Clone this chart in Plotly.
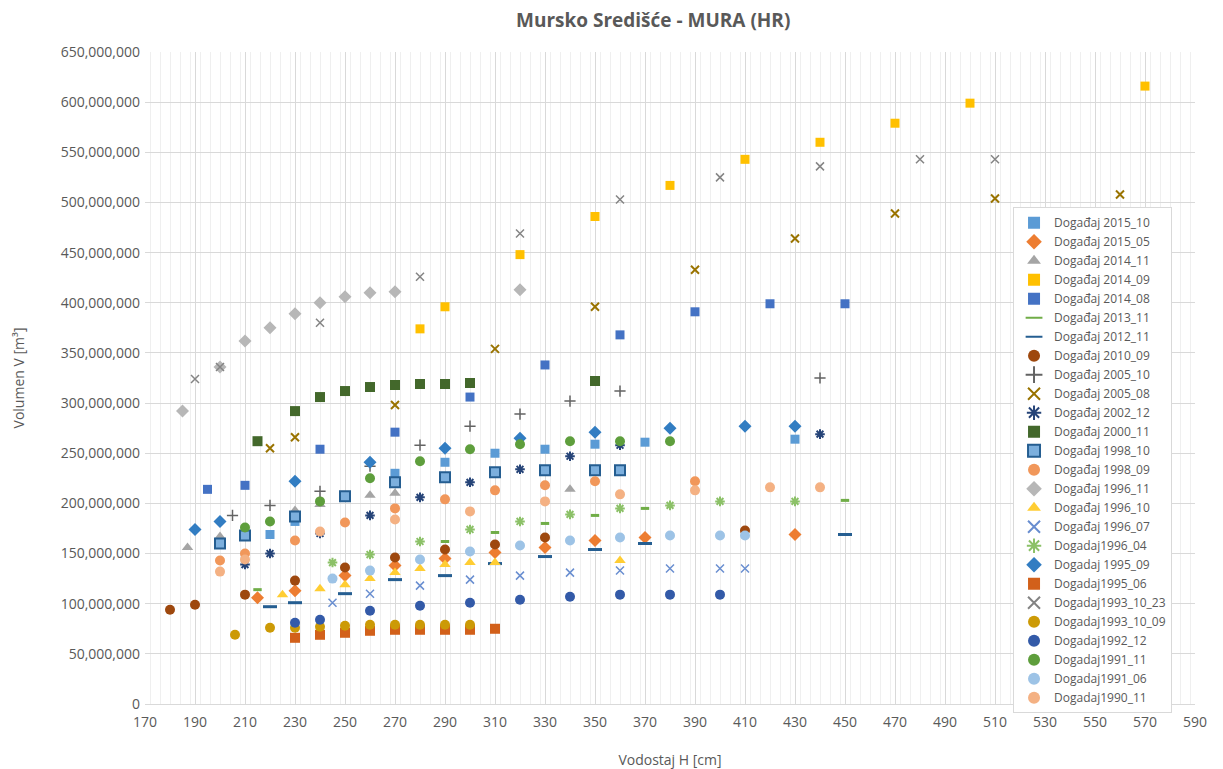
import plotly.graph_objects as go

# water level H [cm] and volume V [million m3] for each event
h_2015_10 = [220, 230, 270, 290, 310, 330, 350, 370, 430]
v_2015_10 = [169, 182, 230, 241, 250, 254, 259, 261, 264]
h_2015_05 = [215, 230, 250, 270, 290, 310, 330, 350, 370, 430]
v_2015_05 = [106, 113, 128, 138, 145, 151, 156, 163, 166, 169]
h_2014_11 = [187, 200, 230, 240, 260, 270, 340]
v_2014_11 = [156, 167, 193, 199, 208, 210, 214]
h_2014_09 = [280, 290, 320, 350, 380, 410, 440, 470, 500, 570]
v_2014_09 = [374, 396, 448, 486, 517, 543, 560, 579, 599, 616]
h_2014_08 = [195, 210, 240, 270, 300, 330, 360, 390, 420, 450]
v_2014_08 = [214, 218, 254, 271, 306, 338, 368, 391, 399, 399]
h_2013_11 = [215, 290, 310, 330, 350, 370, 450]
v_2013_11 = [114, 162, 171, 180, 188, 195, 203]
h_2012_11 = [220, 230, 250, 270, 290, 310, 330, 350, 370, 450]
v_2012_11 = [97, 101, 110, 124, 128, 140, 147, 154, 160, 169]
h_2010_09 = [180, 190, 210, 230, 250, 270, 290, 310, 330, 410]
v_2010_09 = [94, 99, 109, 123, 136, 146, 154, 159, 166, 173]
h_2005_10 = [205, 220, 240, 260, 280, 300, 320, 340, 360, 440]
v_2005_10 = [188, 198, 212, 237, 258, 277, 289, 302, 312, 325]
h_2005_08 = [220, 230, 270, 310, 350, 390, 430, 470, 510, 560]
v_2005_08 = [255, 266, 298, 354, 396, 433, 464, 489, 504, 508]
h_2002_12 = [210, 220, 240, 260, 280, 300, 320, 340, 360, 440]
v_2002_12 = [139, 150, 170, 188, 206, 221, 234, 247, 258, 269]
h_2000_11 = [215, 230, 240, 250, 260, 270, 280, 290, 300, 350]
v_2000_11 = [262, 292, 306, 312, 316, 318, 319, 319, 320, 322]
h_1998_10 = [200, 210, 230, 250, 270, 290, 310, 330, 350, 360]
v_1998_10 = [160, 168, 187, 207, 221, 226, 231, 233, 233, 233]
h_1998_09 = [200, 210, 230, 250, 270, 290, 310, 330, 350, 390]
v_1998_09 = [143, 150, 163, 181, 195, 204, 213, 218, 222, 222]
h_1996_11 = [185, 200, 210, 220, 230, 240, 250, 260, 270, 320]
v_1996_11 = [292, 336, 362, 375, 389, 400, 406, 410, 411, 413]
h_1996_10 = [225, 240, 250, 260, 270, 280, 290, 300, 310, 360]
v_1996_10 = [109, 115, 119, 125, 131, 135, 139, 141, 141, 143]
h_1996_07 = [245, 260, 280, 300, 320, 340, 360, 380, 400, 410]
v_1996_07 = [101, 110, 118, 124, 128, 131, 133, 135, 135, 135]
h_1996_04 = [245, 260, 280, 300, 320, 340, 360, 380, 400, 430]
v_1996_04 = [141, 149, 162, 174, 182, 189, 195, 198, 202, 202]
h_1995_09 = [190, 200, 230, 260, 290, 320, 350, 380, 410, 430]
v_1995_09 = [174, 182, 222, 241, 255, 265, 271, 275, 277, 277]
h_1995_06 = [230, 240, 250, 260, 270, 280, 290, 300, 310]
v_1995_06 = [66, 69, 71, 73, 74, 74, 74, 74, 75]
h_1993_10_23 = [190, 200, 240, 280, 320, 360, 400, 440, 480, 510]
v_1993_10_23 = [324, 336, 380, 426, 469, 503, 525, 536, 543, 543]
h_1993_10_09 = [206, 220, 230, 240, 250, 260, 270, 280, 290, 300]
v_1993_10_09 = [69, 76, 76, 77, 78, 79, 79, 79, 79, 79]
h_1992_12 = [230, 240, 260, 280, 300, 320, 340, 360, 380, 400]
v_1992_12 = [81, 84, 93, 98, 101, 104, 107, 109, 109, 109]
h_1991_11 = [210, 220, 240, 260, 280, 300, 320, 340, 360, 380]
v_1991_11 = [176, 182, 202, 225, 242, 254, 259, 262, 262, 262]
h_1991_06 = [245, 260, 280, 300, 320, 340, 360, 380, 400, 410]
v_1991_06 = [125, 133, 144, 152, 158, 163, 166, 168, 168, 168]
h_1990_11 = [200, 210, 240, 270, 300, 330, 360, 390, 420, 440]
v_1990_11 = [132, 144, 172, 184, 192, 202, 209, 213, 216, 216]

# (legend name, H, V, symbol, colour, size, line colour, line width)
series = [
    ("Događaj 2015_10", h_2015_10, v_2015_10, "square", "#5B9BD5", 9, None, 0),
    ("Događaj 2015_05", h_2015_05, v_2015_05, "diamond", "#ED7D31", 10, None, 0),
    ("Događaj 2014_11", h_2014_11, v_2014_11, "triangle-up", "#A5A5A5", 10, None, 0),
    ("Događaj 2014_09", h_2014_09, v_2014_09, "square", "#FFC000", 9, None, 0),
    ("Događaj 2014_08", h_2014_08, v_2014_08, "square", "#4472C4", 9, None, 0),
    ("Događaj 2013_11", h_2013_11, v_2013_11, "line-ew", "#70AD47", 6, "#70AD47", 3),
    ("Događaj 2012_11", h_2012_11, v_2012_11, "line-ew", "#255E91", 10, "#255E91", 3),
    ("Događaj 2010_09", h_2010_09, v_2010_09, "circle", "#9E480E", 10, None, 0),
    ("Događaj 2005_10", h_2005_10, v_2005_10, "cross-thin", "#636363", 8, "#636363", 1.5),
    ("Događaj 2005_08", h_2005_08, v_2005_08, "x-thin", "#997300", 8, "#997300", 2),
    ("Događaj 2002_12", h_2002_12, v_2002_12, "asterisk", "#264478", 8, "#264478", 2),
    ("Događaj 2000_11", h_2000_11, v_2000_11, "square", "#43682B", 10, None, 0),
    ("Događaj 1998_10", h_1998_10, v_1998_10, "square", "#7CAFDD", 10, "#255E91", 2),
    ("Događaj 1998_09", h_1998_09, v_1998_09, "circle", "#F1975A", 10, None, 0),
    ("Događaj 1996_11", h_1996_11, v_1996_11, "diamond", "#B7B7B7", 10, None, 0),
    ("Događaj 1996_10", h_1996_10, v_1996_10, "triangle-up", "#FFCD33", 10, None, 0),
    ("Događaj 1996_07", h_1996_07, v_1996_07, "x-thin", "#698ED0", 8, "#698ED0", 1.5),
    ("Dogadaj1996_04", h_1996_04, v_1996_04, "asterisk", "#8CC168", 8, "#8CC168", 2),
    ("Dogadaj 1995_09", h_1995_09, v_1995_09, "diamond", "#327DC2", 10, None, 0),
    ("Dogadaj1995_06", h_1995_06, v_1995_06, "square", "#D2601A", 10, None, 0),
    ("Dogadaj1993_10_23", h_1993_10_23, v_1993_10_23, "x-thin", "#848484", 8, "#848484", 1.5),
    ("Dogadaj1993_10_09", h_1993_10_09, v_1993_10_09, "circle", "#CC9A06", 10, None, 0),
    ("Dogadaj1992_12", h_1992_12, v_1992_12, "circle", "#335AA8", 10, None, 0),
    ("Dogadaj1991_11", h_1991_11, v_1991_11, "circle", "#5E9E3C", 10, None, 0),
    ("Dogadaj1991_06", h_1991_06, v_1991_06, "circle", "#9DC3E6", 10, None, 0),
    ("Dogadaj1990_11", h_1990_11, v_1990_11, "circle", "#F4B183", 10, None, 0),
]

TEXT = "#595959"
FONT = "Open Sans, Liberation Sans, sans-serif"

fig = go.Figure()
for name, h, v, symbol, color, size, line_color, line_width in series:
    fig.add_trace(
        go.Scatter(
            x=h,
            y=[val * 1e6 for val in v],
            mode="markers",
            name=name,
            marker=dict(
                symbol=symbol,
                color=color,
                size=size,
                line=dict(color=line_color or color, width=line_width),
            ),
        )
    )

# page body keeps its default 8px margin, so the figure is sized to fit inside it
fig.update_layout(
    width=1215,
    height=761,
    plot_bgcolor="white",
    paper_bgcolor="white",
    margin=dict(l=137, r=28, t=44, b=65),
    font=dict(family=FONT, size=14, color=TEXT),
    title=dict(
        text="<b>Mursko Središće - MURA (HR)</b>",
        xref="paper",
        x=0.484,
        xanchor="center",
        y=1 - 12 / 761,
        yanchor="middle",
        font=dict(size=19, color=TEXT),
    ),
    legend=dict(
        x=0.8267,
        y=0.762,
        xanchor="left",
        yanchor="top",
        bgcolor="white",
        bordercolor="#D9D9D9",
        borderwidth=1,
        font=dict(size=12, color=TEXT),
        itemsizing="constant",
        tracegroupgap=0,
    ),
)

fig.update_xaxes(
    range=[170, 590],
    dtick=20,
    tick0=170,
    showgrid=True,
    gridcolor="#D9D9D9",
    minor=dict(dtick=4, showgrid=True, gridcolor="#EFEFEF"),
    showline=True,
    linecolor="#D9D9D9",
    zeroline=False,
    ticks="",
    ticklabelstandoff=5,
    automargin=False,
    tickfont=dict(size=14),
    title=dict(text="Vodostaj H [cm]", font=dict(size=14, color=TEXT), standoff=26),
)
fig.update_yaxes(
    range=[0, 650e6],
    dtick=50e6,
    tickformat=",d",
    showgrid=True,
    gridcolor="#D9D9D9",
    zeroline=False,
    ticks="",
    ticklabelstandoff=4,
    automargin=False,
    tickfont=dict(size=14),
    title=dict(text="Volumen V [m³]", font=dict(size=14, color=TEXT), standoff=32),
)

fig.write_html("out.html")
